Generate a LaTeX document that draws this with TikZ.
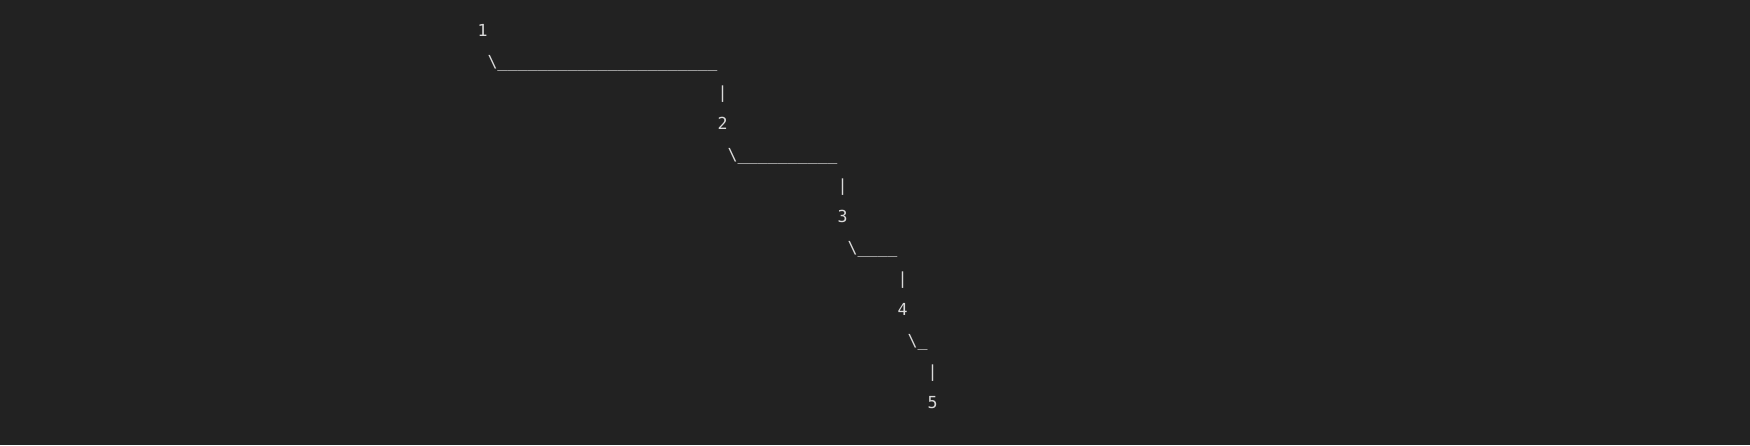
\documentclass[tikz,border=0pt]{standalone}
\usepackage{fontspec}
\setmonofont{DejaVu Sans Mono}
\definecolor{termbg}{RGB}{34,34,34}
\definecolor{termfg}{RGB}{218,218,218}
\tikzset{every picture/.style={/utils/exec={\ttfamily}}}
\tikzset{asciiart/.style={anchor=base west, inner sep=0pt, outer sep=0pt, text=termfg,
    font=\ttfamily\fontsize{8.3pt}{10pt}\selectfont}}

\begin{document}
\begin{tikzpicture}[x=0.5pt,y=-0.5pt]
  \fill [termbg] (0,0) rectangle (1750,445);
  \useasboundingbox (0,0) rectangle (1750,445);

  \node [asciiart] (num1)  at (477.5,36)  {1};
  \node [asciiart] (hook1) at (487.5,67)  {\textbackslash\_\_\_\_\_\_\_\_\_\_\_\_\_\_\_\_\_\_\_\_\_\_};
  \node [asciiart] (bar1)  at (717.5,98)  {|};
  \node [asciiart] (num2)  at (717.5,129) {2};

  \node [asciiart] (hook2) at (727.5,160) {\textbackslash\_\_\_\_\_\_\_\_\_\_};
  \node [asciiart] (bar2)  at (837.5,191) {|};
  \node [asciiart] (num3)  at (837.5,222) {3};

  \node [asciiart] (hook3) at (847.5,253) {\textbackslash\_\_\_\_};
  \node [asciiart] (bar3)  at (897.5,284) {|};
  \node [asciiart] (num4)  at (897.5,315) {4};

  \node [asciiart] (hook4) at (907.5,346) {\textbackslash\_};
  \node [asciiart] (bar4)  at (927.5,377) {|};
  \node [asciiart] (num5)  at (927.5,408) {5};

\end{tikzpicture}
\end{document}
